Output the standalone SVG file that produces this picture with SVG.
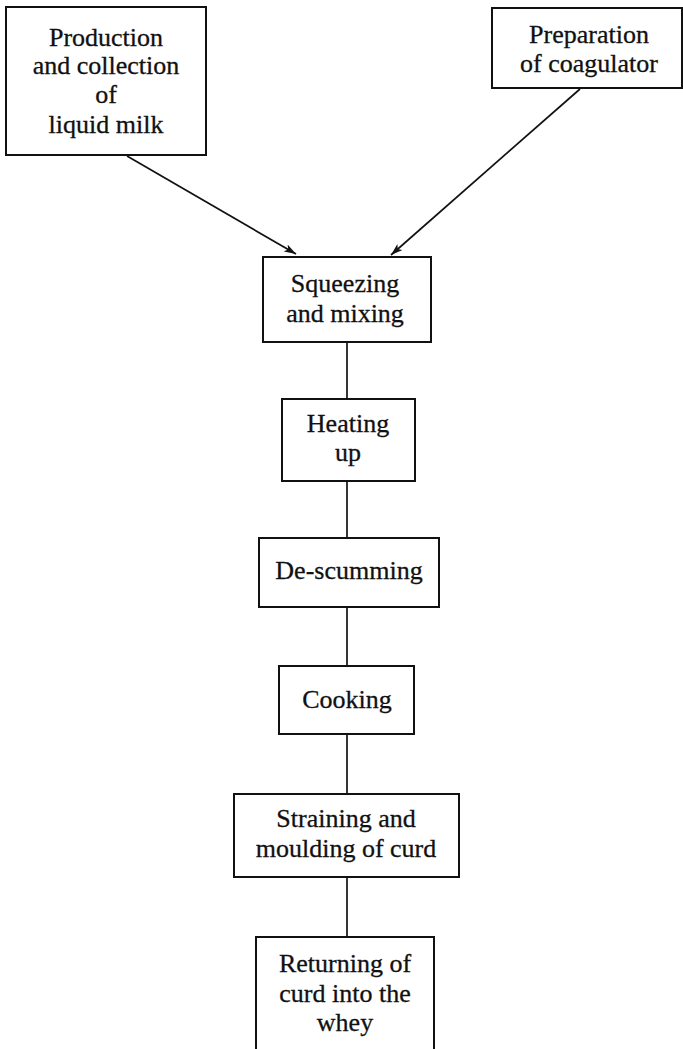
<svg xmlns="http://www.w3.org/2000/svg" width="683" height="1049" viewBox="0 0 683 1049">
<style>
.box{fill:#fff;stroke:#111;stroke-width:2}
.t{font-family:"Liberation Serif","Times New Roman",serif;font-size:26px;fill:#111;stroke:#111;stroke-width:0.3;text-anchor:middle}
.c{stroke:#111;stroke-width:1.7;fill:none}
</style>
<defs>
<marker id="ah" viewBox="0 0 12 8" refX="12" refY="4" markerWidth="12" markerHeight="8" markerUnits="userSpaceOnUse" orient="auto">
<path d="M0,0 L12,4 L0,8 L3,4 Z" fill="#111"/>
</marker>
</defs>
<rect width="683" height="1049" fill="#fff"/>
<g id="connectors">
<line class="c" x1="127" y1="156" x2="296" y2="254" marker-end="url(#ah)"/>
<line class="c" x1="580" y1="89" x2="391" y2="255" marker-end="url(#ah)"/>
<line class="c" x1="347" y1="342" x2="347" y2="399"/>
<line class="c" x1="347" y1="481" x2="347" y2="538"/>
<line class="c" x1="347" y1="607" x2="347" y2="666"/>
<line class="c" x1="347" y1="734" x2="347" y2="794"/>
<line class="c" x1="347" y1="877" x2="347" y2="937"/>
</g>
<g id="production">
<rect class="box" x="6" y="7" width="200" height="148"/>
<text class="t" x="106" y="46">Production</text>
<text class="t" x="106" y="74">and collection</text>
<text class="t" x="106" y="103">of</text>
<text class="t" x="106" y="133">liquid milk</text>
</g>
<g id="preparation">
<rect class="box" x="492" y="8" width="190" height="80"/>
<text class="t" x="589" y="43">Preparation</text>
<text class="t" x="589" y="72">of coagulator</text>
</g>
<g id="squeezing">
<rect class="box" x="263" y="257" width="168" height="85"/>
<text class="t" x="345" y="292">Squeezing</text>
<text class="t" x="345" y="322">and mixing</text>
</g>
<g id="heating">
<rect class="box" x="282" y="399" width="133" height="82"/>
<text class="t" x="348" y="432">Heating</text>
<text class="t" x="348" y="461">up</text>
</g>
<g id="descumming">
<rect class="box" x="259" y="538" width="180" height="69"/>
<text class="t" x="349" y="579">De-scumming</text>
</g>
<g id="cooking">
<rect class="box" x="279" y="666" width="135" height="68"/>
<text class="t" x="347" y="708">Cooking</text>
</g>
<g id="straining">
<rect class="box" x="234" y="794" width="225" height="83"/>
<text class="t" x="346" y="827">Straining and</text>
<text class="t" x="346" y="857">moulding of curd</text>
</g>
<g id="returning">
<rect class="box" x="256" y="937" width="178" height="130"/>
<text class="t" x="345" y="972">Returning of</text>
<text class="t" x="345" y="1002">curd into the</text>
<text class="t" x="345" y="1031">whey</text>
</g>
</svg>
